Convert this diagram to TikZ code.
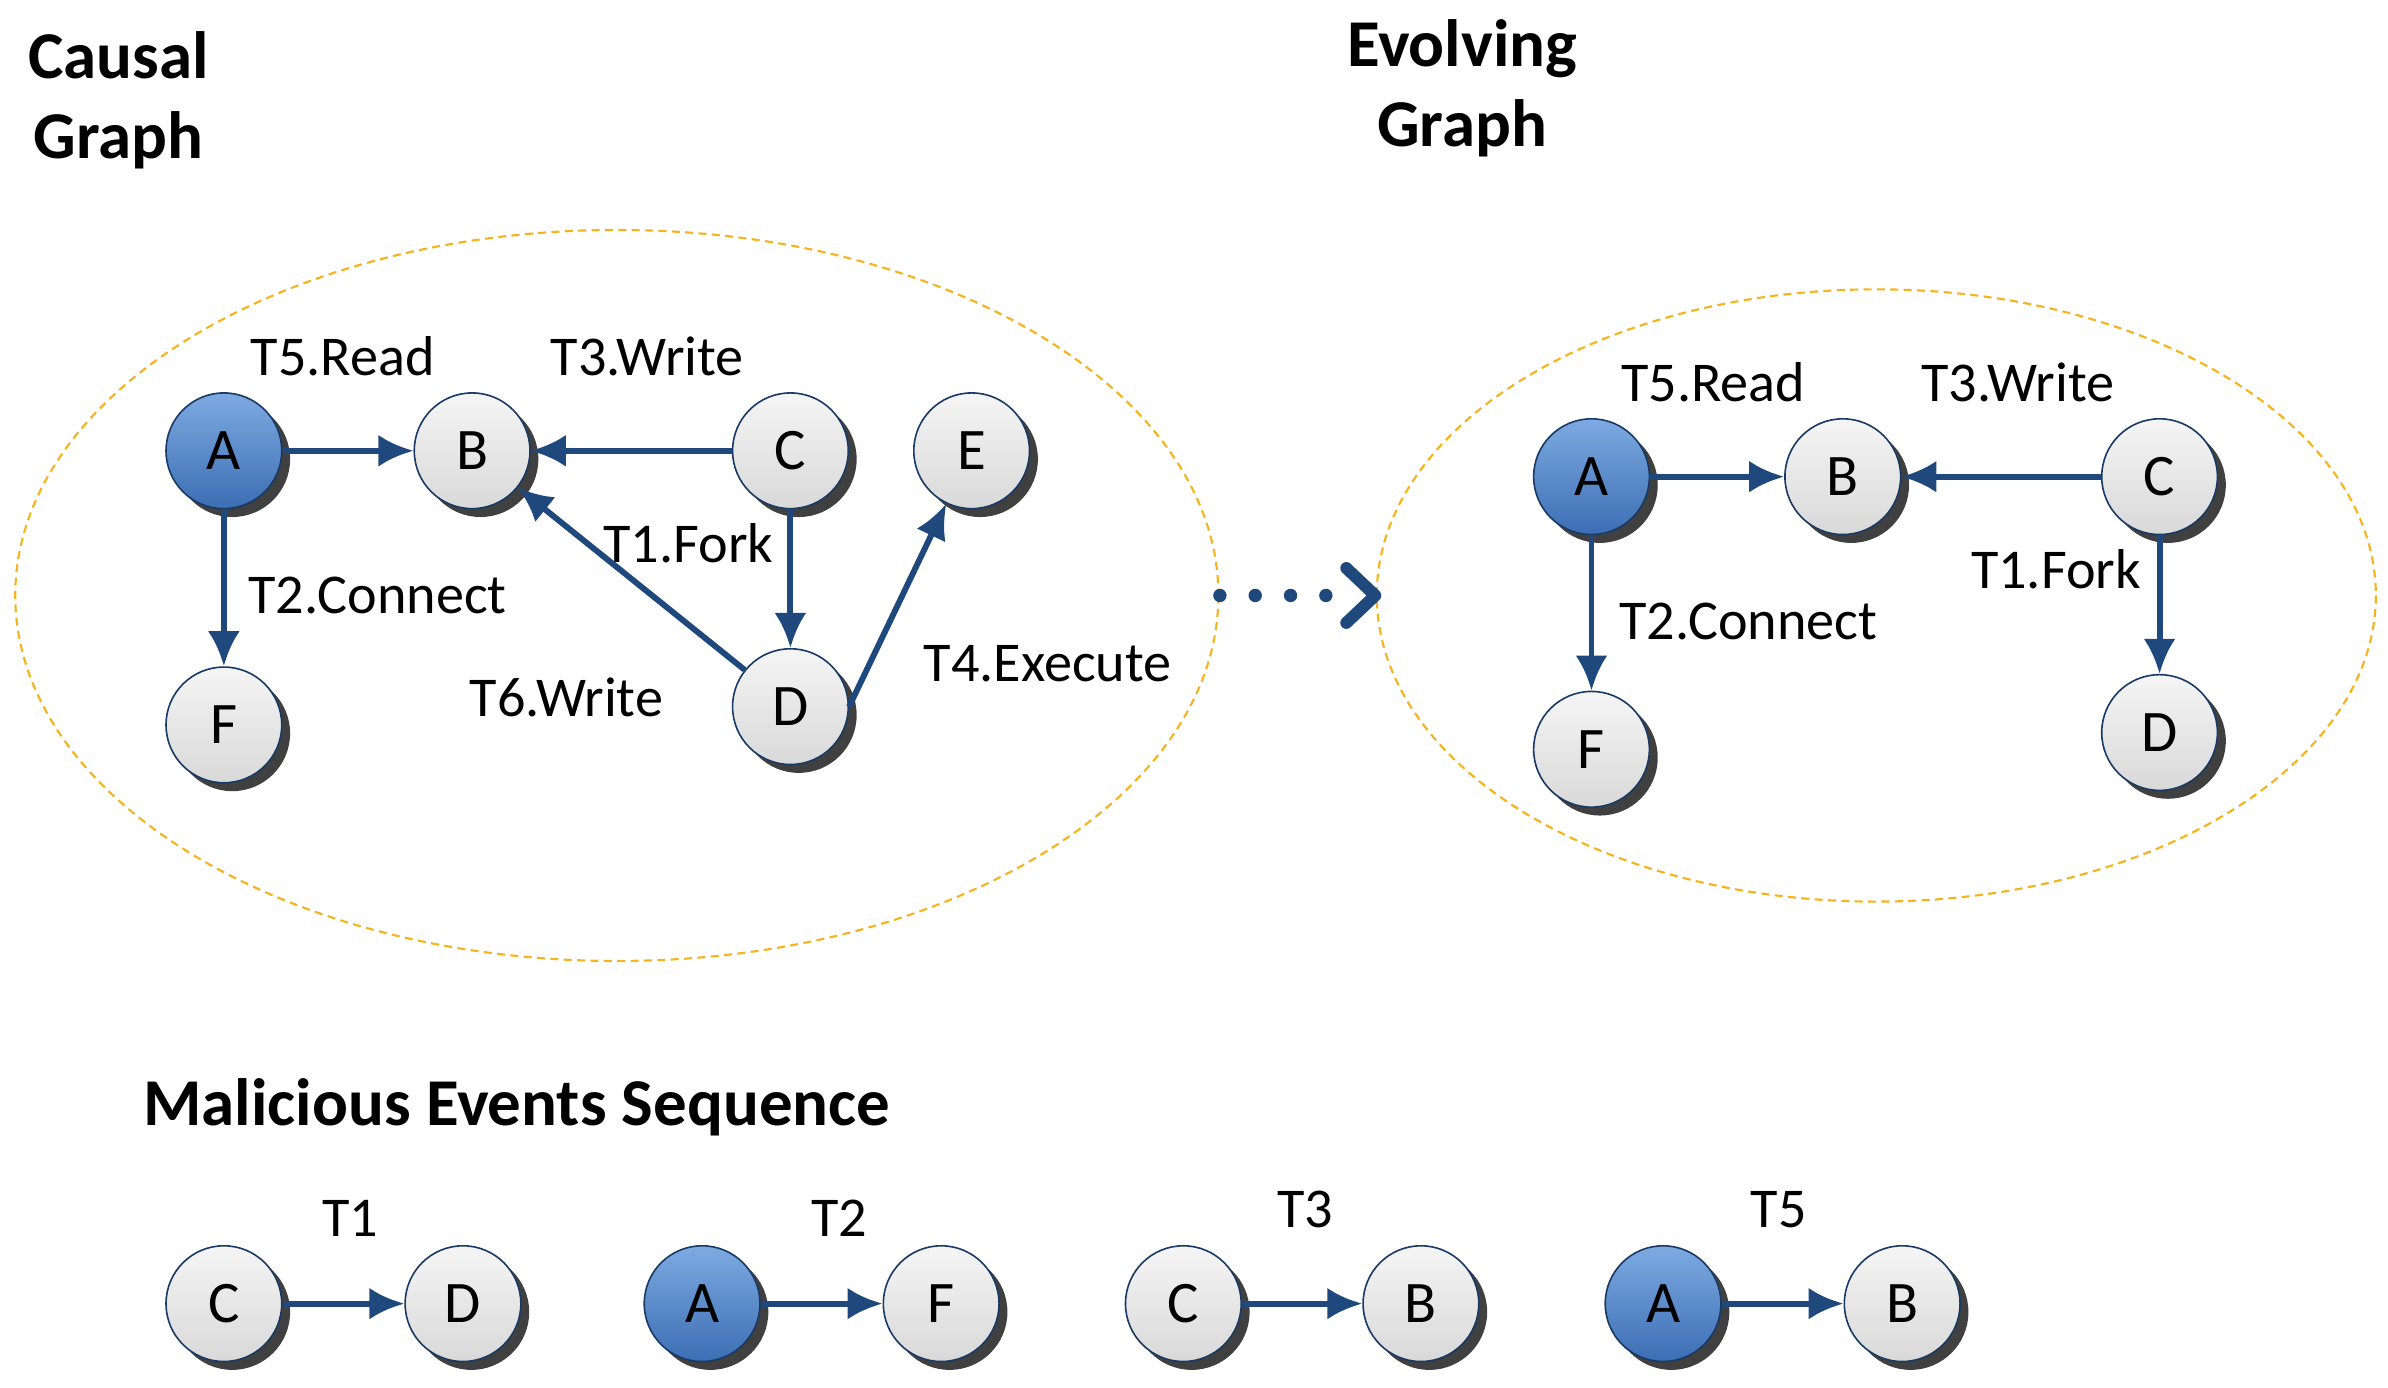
\documentclass[tikz,border=0pt]{standalone}
\usepackage{fontspec}
\setmainfont{Carlito}
\usetikzlibrary{arrows.meta,shadows}
\definecolor{edg}{RGB}{31,73,125}
\definecolor{ell}{RGB}{245,180,30}
\definecolor{bl1}{RGB}{125,170,225}
\definecolor{bl2}{RGB}{60,110,180}
\begin{document}
\begin{tikzpicture}[x=0.02cm,y=-0.02cm,
 nd/.style={circle,minimum size=1.52cm,inner sep=0pt,draw=edg!80!black,line width=0.6pt,
   top color=gray!8,bottom color=gray!30,font=\fontsize{22}{24}\selectfont,
   drop shadow={shadow xshift=0.11cm,shadow yshift=-0.11cm,fill=black!75,opacity=1}},
 na/.style={nd,top color=bl1,bottom color=bl2},
 ar/.style={draw=edg,line width=2.2pt,-{Latex[length=0.46cm,width=0.42cm]}},
 lb/.style={font=\fontsize{21}{23}\selectfont},
 tt/.style={font=\fontsize{25}{30}\selectfont\bfseries,align=center},
 el/.style={draw=ell,line width=0.8pt,dash pattern=on 3pt off 2pt}]
\useasboundingbox (0,0) rectangle (1568,911);
\node[tt] (t1) at (78,66) {Causal\\Graph};
\node[tt] (t2) at (960,58) {Evolving\\Graph};
\node[tt,anchor=west] (t3) at (88,727) {Malicious Events Sequence};
\draw[el] (405,391) ellipse [x radius=395, y radius=240];
\draw[el] (1232,391) ellipse [x radius=328, y radius=201];
% left graph
\node[na] (A) at (147,296) {A};
\node[nd] (B) at (310,296) {B};
\node[nd] (C) at (519,296) {C};
\node[nd] (E) at (638,296) {E};
\node[nd] (F) at (147,476) {F};
\node[nd] (D) at (519,464) {D};
\draw[ar] (A) -- (B);
\draw[ar] (C) -- (B);
\draw[ar] (C) -- (D);
\draw[ar] (D) -- (B);
\draw[ar] (D.east) -- (E);
\draw[ar] (A) -- (F);
\node[lb] (l1) at (225,234) {T5.Read};
\node[lb] (l2) at (425,234) {T3.Write};
\node[lb] (l3) at (452,357) {T1.Fork};
\node[lb] (l4) at (248,391) {T2.Connect};
\node[lb] (l5) at (372,458) {T6.Write};
\node[lb] (l6) at (688,436) {T4.Execute};
% dotted arrow
\coordinate (p1) at (801,391);
\coordinate (p2) at (871,391);
\draw[edg,line width=5pt,dash pattern=on 0pt off 13.2pt,line cap=round] (p1) -- (p2);
\coordinate (c1) at (884,373); \coordinate (c2) at (903,391); \coordinate (c3) at (884,409);
\draw[edg,line width=4.5pt,line cap=round,line join=round] (c1) -- (c2) -- (c3);
% right graph
\node[na] (A2) at (1045,313) {A};
\node[nd] (B2) at (1210,313) {B};
\node[nd] (C2) at (1418,313) {C};
\node[nd] (F2) at (1045,492) {F};
\node[nd] (D2) at (1418,481) {D};
\draw[ar] (A2) -- (B2);
\draw[ar] (C2) -- (B2);
\draw[ar] (C2) -- (D2);
\draw[ar] (A2) -- (F2);
\node[lb] (m1) at (1125,251) {T5.Read};
\node[lb] (m2) at (1325,251) {T3.Write};
\node[lb] (m3) at (1350,374) {T1.Fork};
\node[lb] (m4) at (1148,408) {T2.Connect};
% bottom
\node[nd] (s1) at (147,856) {C};
\node[nd] (s2) at (304,856) {D};
\node[na] (s3) at (461,856) {A};
\node[nd] (s4) at (618,856) {F};
\node[nd] (s5) at (777,856) {C};
\node[nd] (s6) at (933,856) {B};
\node[na] (s7) at (1092,856) {A};
\node[nd] (s8) at (1249,856) {B};
\draw[ar] (s1) -- (s2);
\draw[ar] (s3) -- (s4);
\draw[ar] (s5) -- (s6);
\draw[ar] (s7) -- (s8);
\node[lb] (n1) at (230,800) {T1};
\node[lb] (n2) at (551,800) {T2};
\node[lb] (n3) at (857,794) {T3};
\node[lb] (n4) at (1168,794) {T5};
\end{tikzpicture}
\end{document}
